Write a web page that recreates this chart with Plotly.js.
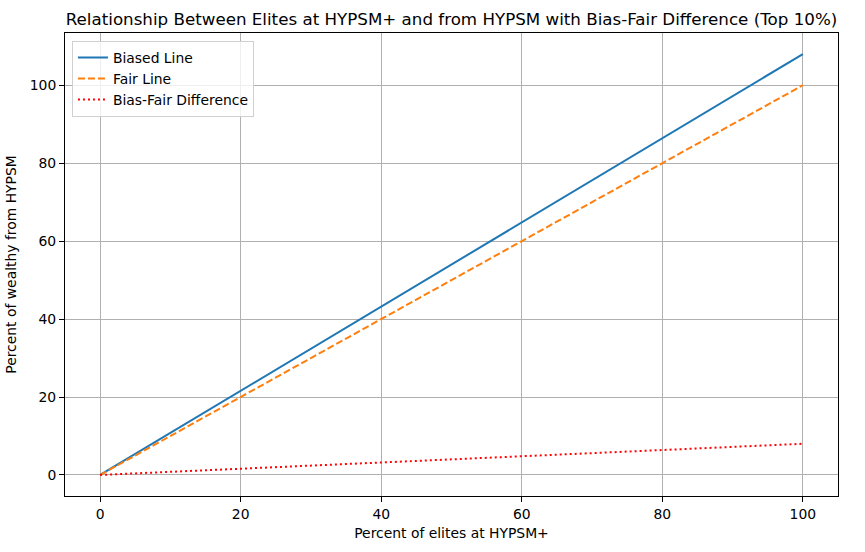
<!DOCTYPE html>
<html>
<head>
<meta charset="utf-8">
<script src="https://cdn.plot.ly/plotly-3.0.1.min.js"></script>
<style>body{margin:0;background:#fff}#plot{width:865px;height:552px}</style>
</head>
<body>
<div id="plot"></div>
<script>
const elitesPct = [0, 20, 40, 60, 80, 100]
const biasedLine = [0, 21.6, 43.2, 64.8, 86.4, 108]
const fairLine = [0, 20, 40, 60, 80, 100]
const biasFairDiff = [0, 1.6, 3.2, 4.8, 6.4, 8]

const data = [
  {x: elitesPct, y: biasedLine, name: 'Biased Line', mode: 'lines',
   line: {color: '#1f77b4', width: 2}},
  {x: elitesPct, y: fairLine, name: 'Fair Line', mode: 'lines',
   line: {color: '#ff7f0e', width: 2, dash: '7px,3px'}},
  {x: elitesPct, y: biasFairDiff, name: 'Bias-Fair Difference', mode: 'lines',
   line: {color: 'red', width: 2, dash: '2px,3px'}}
]

const axisStyle = {
  showline: true, linecolor: '#000', linewidth: 1, mirror: true,
  showgrid: true, gridcolor: '#b0b0b0', gridwidth: 1,
  ticks: 'outside', ticklen: 5, tickcolor: '#000',
  zeroline: false, tickfont: {size: 13.9, color: '#000'}
}

const layout = {
  width: 865, height: 552,
  font: {family: 'DejaVu Sans', color: '#000'},
  paper_bgcolor: '#fff', plot_bgcolor: '#fff',
  margin: {l: 65, r: 27, t: 33, b: 56},
  title: {text: 'Relationship Between Elites at HYPSM+ and from HYPSM with Bias-Fair Difference (Top 10%)',
          font: {size: 16.7}, xref: 'paper', x: 0.5, xanchor: 'center', y: 0.965, yanchor: 'middle'},
  xaxis: Object.assign({}, axisStyle, {
    range: [-5, 105], tickvals: [0, 20, 40, 60, 80, 100],
    title: {text: 'Percent of elites at HYPSM+', font: {size: 13.9}, standoff: 7}
  }),
  yaxis: Object.assign({}, axisStyle, {
    range: [-5.4, 113.4], tickvals: [0, 20, 40, 60, 80, 100],
    title: {text: 'Percent of wealthy from HYPSM', font: {size: 13.9}, standoff: 9}
  }),
  showlegend: true,
  legend: {x: 0.009, y: 0.983, xanchor: 'left', yanchor: 'top',
    bgcolor: 'rgba(255,255,255,0.8)', bordercolor: '#d0d0d0', borderwidth: 1,
    font: {size: 13.9}, tracegroupgap: 0}
}

Plotly.newPlot('plot', data, layout, {displayModeBar: false})
</script>
</body>
</html>
